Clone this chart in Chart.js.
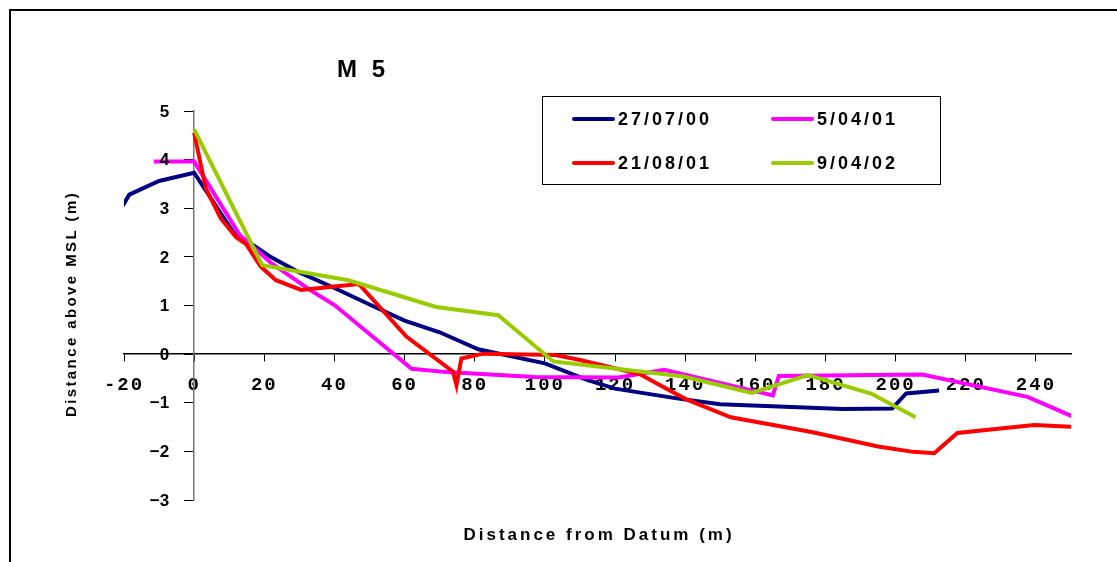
<!DOCTYPE html>
<html lang="en">
<head>
<meta charset="UTF-8">
<title>M 5</title>
<script src="https://cdn.jsdelivr.net/npm/chart.js"></script>
<style>
  html, body { margin: 0; padding: 0; background: #fff; overflow: hidden; }
  #wrap { width: 1117px; height: 562px; position: relative; }
</style>
</head>
<body>
<div id="wrap"><canvas id="profileChart"></canvas></div>
<script>
// survey dates and colours (legend order)
const surveyLabels = ['27/07/00', '5/04/01', '21/08/01', '9/04/02'];
const surveyColors = ['#000080', '#ff00ff', '#ff0000', '#99cc00'];

// distance from datum (m) and height above MSL (m)
const dist0700 = [-25, -18.5, -10, 0, 11, 16, 22, 30, 40, 50, 60, 70, 81, 100, 112, 120, 137.6, 150, 185, 199, 203, 212.4];
const elev0700 = [2.48, 3.28, 3.56, 3.73, 2.52, 2.28, 1.99, 1.68, 1.36, 1.02, 0.69, 0.45, 0.10, -0.19, -0.53, -0.71, -0.91, -1.03, -1.13, -1.12, -0.81, -0.75];

const dist0401 = [-11.5, 0, 13, 22, 33, 40, 62, 72, 97, 121, 134, 165, 166.7, 207.6, 237.6, 252];
const elev0401 = [3.96, 3.96, 2.45, 1.87, 1.32, 1.01, -0.30, -0.37, -0.47, -0.48, -0.32, -0.85, -0.45, -0.42, -0.88, -1.33];

const dist0801 = [0, 3.3, 7.6, 11.9, 14.8, 19, 23.3, 30.5, 40, 47, 60.5, 73.8, 74.8, 76.2, 82.4, 103, 110, 127, 140, 153, 176, 195, 205, 211, 217.6, 239.5, 252];
const elev0801 = [4.55, 3.41, 2.79, 2.41, 2.26, 1.80, 1.52, 1.32, 1.39, 1.44, 0.36, -0.36, -0.64, -0.09, 0.01, -0.02, -0.12, -0.41, -0.92, -1.30, -1.60, -1.90, -2.01, -2.04, -1.62, -1.46, -1.50];

const dist0402 = [0, 19.4, 44, 69, 86.7, 102.4, 139.5, 159, 175, 193, 205.7];
const elev0402 = [4.62, 1.83, 1.52, 0.97, 0.80, -0.15, -0.46, -0.80, -0.43, -0.81, -1.30];

// axis ticks
const xTicks = [-20, 0, 20, 40, 60, 80, 100, 120, 140, 160, 180, 200, 220, 240];
const yTicks = [-3, -2, -1, 0, 1, 2, 3, 4, 5];

function toPoints(xs, ys) {
    return xs.map((x, i) => ({ x: x, y: ys[i] }));
}

const seriesX = [dist0700, dist0401, dist0801, dist0402];
const seriesY = [elev0700, elev0401, elev0801, elev0402];
const drawOrder = [3, 2, 1, 0]; // green on top, navy underneath

const datasets = surveyLabels.map((label, i) => ({
    label: label,
    data: toPoints(seriesX[i], seriesY[i]),
    borderColor: surveyColors[i],
    backgroundColor: surveyColors[i],
    borderWidth: 4,
    pointRadius: 0,
    tension: 0,
    fill: false,
    order: drawOrder[i]
}));

function yLabel(v) {
    return v < 0 ? '\u2212' + Math.abs(v) : String(v);
}

// title, axis titles, y tick labels, legend box and outer frame
const decorPlugin = {
    id: 'decor',
    beforeDraw(chart) {
        chart.ctx.letterSpacing = '2px'; // x tick labels are spaced out
    },
    beforeDatasetsDraw(chart) {
        chart.ctx.letterSpacing = '0px';
    },
    afterDraw(chart) {
        const ctx = chart.ctx;
        const xs = chart.scales.x;
        const ys = chart.scales.y;
        ctx.save();
        ctx.letterSpacing = '0px';

        // outer frame (only top and left edges are inside the picture)
        ctx.strokeStyle = '#000';
        ctx.lineWidth = 2;
        ctx.beginPath();
        ctx.moveTo(10, 600);
        ctx.lineTo(10, 10);
        ctx.lineTo(1150, 10);
        ctx.stroke();

        ctx.fillStyle = '#000';

        // y tick labels, left of the axis that crosses at x = 0
        ctx.font = 'bold 17px "Liberation Sans", Arial, sans-serif';
        ctx.textAlign = 'right';
        ctx.textBaseline = 'middle';
        const axisX = xs.getPixelForValue(0);
        ys.ticks.forEach(t => {
            ctx.fillText(yLabel(t.value), axisX - 25, ys.getPixelForValue(t.value) + 1);
        });

        // chart title
        ctx.font = 'bold 24px "Liberation Sans", Arial, sans-serif';
        ctx.letterSpacing = '4px';
        ctx.textAlign = 'center';
        ctx.fillText('M 5', 363, 70);

        // x axis title
        ctx.font = 'bold 17px "Liberation Sans", Arial, sans-serif';
        ctx.letterSpacing = '3px';
        ctx.fillText('Distance from Datum (m)', 599, 535);

        // y axis title
        ctx.save();
        ctx.translate(72, 304);
        ctx.rotate(-Math.PI / 2);
        ctx.font = 'bold 15px "Liberation Sans", Arial, sans-serif';
        ctx.letterSpacing = '2.4px';
        ctx.fillText('Distance above MSL (m)', 0, 0);
        ctx.restore();

        // legend
        ctx.letterSpacing = '0px';
        ctx.strokeStyle = '#000';
        ctx.lineWidth = 1;
        ctx.strokeRect(542.5, 96.5, 398, 88);

        const cols = [574, 773];
        const rows = [119, 163];
        ctx.font = 'bold 18px "Liberation Sans", Arial, sans-serif';
        ctx.letterSpacing = '3px';
        ctx.textAlign = 'left';
        chart.data.datasets.forEach((ds, i) => {
            const lx = cols[i % 2];
            const ly = rows[Math.floor(i / 2)];
            ctx.strokeStyle = ds.borderColor;
            ctx.lineWidth = 4;
            ctx.lineCap = 'round';
            ctx.beginPath();
            ctx.moveTo(lx, ly);
            ctx.lineTo(lx + 39, ly);
            ctx.stroke();
            ctx.fillStyle = '#000';
            ctx.fillText(ds.label, lx + 44, ly + 1);
        });

        ctx.restore();
    }
};

const ctx = document.getElementById('profileChart').getContext('2d');
new Chart(ctx, {
    type: 'line',
    data: { datasets: datasets },
    plugins: [decorPlugin],
    options: {
        responsive: true,
        maintainAspectRatio: false,
        animation: false,
        devicePixelRatio: 1,
        layout: {
            padding: { left: 124, right: 46, top: 111, bottom: 62 }
        },
        plugins: {
            legend: { display: false },
            title: { display: false },
            tooltip: { enabled: false }
        },
        scales: {
            x: {
                type: 'linear',
                min: -20,
                max: 250,
                position: { y: 0 },
                afterFit: s => { s.height = 0; },
                afterBuildTicks: s => { s.ticks = xTicks.map(v => ({ value: v })); },
                grid: { drawOnChartArea: false, tickLength: 7, color: '#000', lineWidth: 1 },
                border: { color: '#000', width: 1.5 },
                ticks: {
                    autoSkip: false,
                    maxRotation: 0,
                    padding: 13,
                    color: '#000',
                    font: { family: '"Liberation Mono", "Courier New", monospace', size: 19, weight: 'bold' },
                    callback: v => String(v)
                }
            },
            y: {
                type: 'linear',
                min: -3,
                max: 5,
                position: { x: 0 },
                afterFit: s => { s.width = 0; },
                afterBuildTicks: s => { s.ticks = yTicks.map(v => ({ value: v })); },
                grid: { drawOnChartArea: false, tickLength: 9, color: '#000', lineWidth: 1 },
                border: { color: '#777', width: 1.5 },
                ticks: { display: false }
            }
        }
    }
});
</script>
</body>
</html>
